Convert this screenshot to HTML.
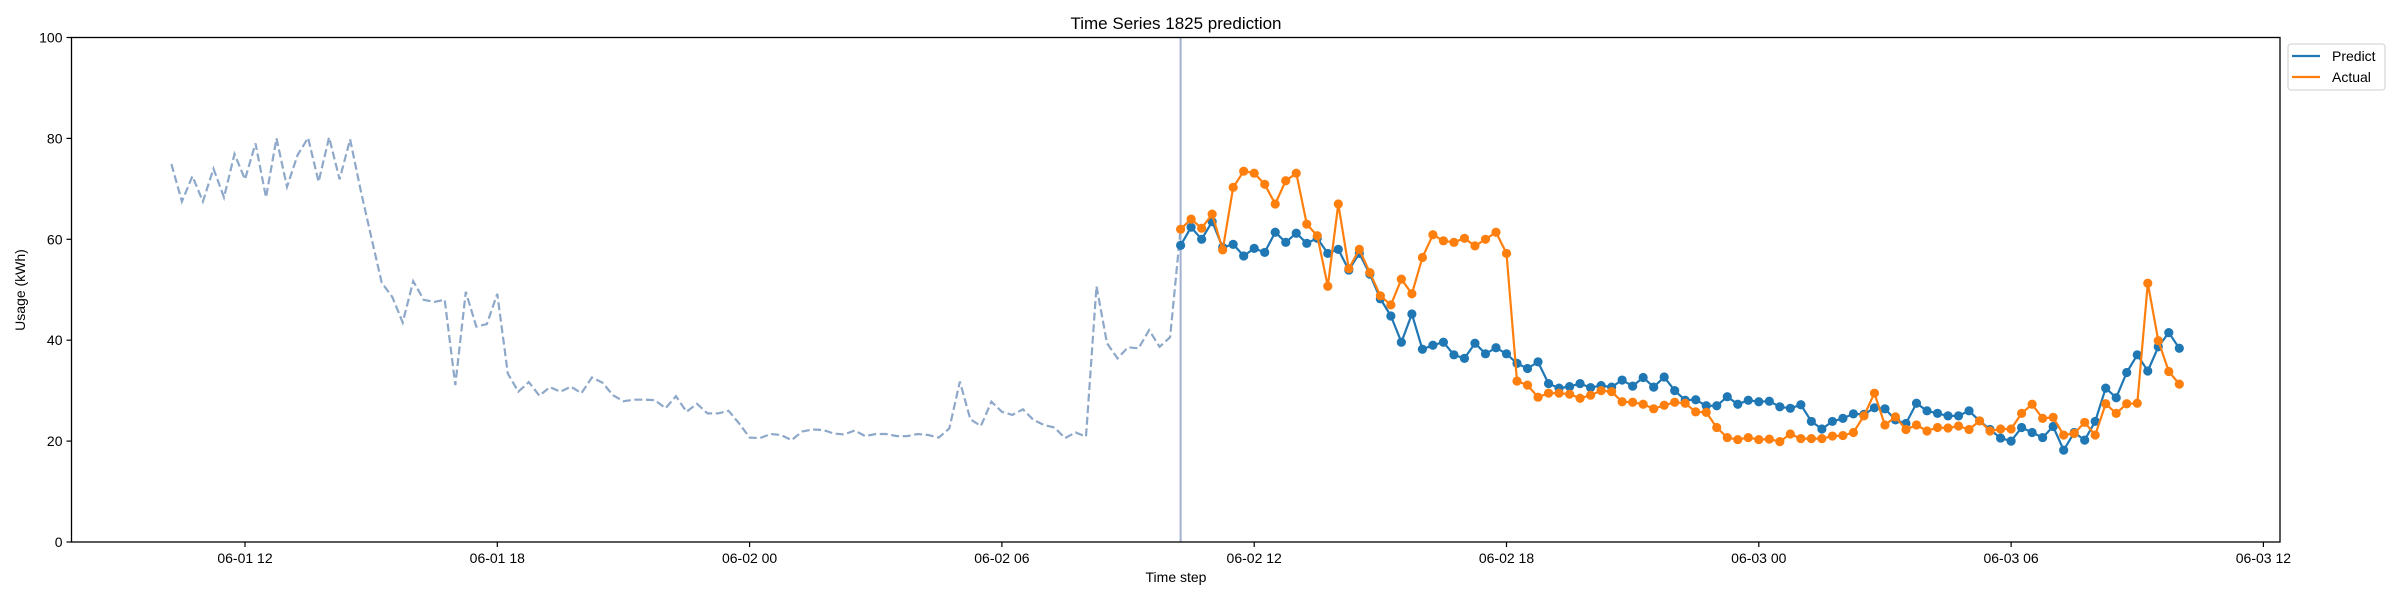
<!DOCTYPE html>
<html><head><meta charset="utf-8"><style>
html,body{margin:0;padding:0;background:#fff;}
svg{display:block;font-family:"Liberation Sans","DejaVu Sans",sans-serif;}
</style></head><body>
<svg id="chart" width="2400" height="600" viewBox="0 0 2400 600" xmlns="http://www.w3.org/2000/svg">
<rect x="0" y="0" width="2400" height="600" fill="#fff"/>
<text x="1176" y="29" font-size="17" text-anchor="middle" fill="#000">Time Series 1825 prediction</text>
<g id="plot"></g>
<g id="axes"></g>
<text x="1176" y="582" font-size="14" text-anchor="middle" fill="#000">Time step</text>
<text transform="translate(25,290) rotate(-90)" font-size="14" text-anchor="middle" fill="#000">Usage (kWh)</text>
<g>
<rect x="2288" y="44" width="97" height="46" rx="3" fill="#fff" stroke="#d6d6d6" stroke-width="1.2"/>
<line x1="2292" y1="56" x2="2320" y2="56" stroke="#1f77b4" stroke-width="2.2"/>
<text x="2332" y="61" font-size="14" fill="#000">Predict</text>
<line x1="2292" y1="77" x2="2320" y2="77" stroke="#ff7f0e" stroke-width="2.2"/>
<text x="2332" y="82" font-size="14" fill="#000">Actual</text>
</g>
</svg>
<script>
// history (15-min steps starting 06-01 10:15)
const historyValues = [74.9,67.5,72.5,67.5,74.0,68.3,76.9,71.9,79.0,68.3,80.0,70.4,76.7,80.1,71.4,80.2,71.9,79.8,69.8,60.5,51.4,48.6,43.5,51.7,48.0,47.6,48.0,31.1,49.6,42.7,43.2,49.2,33.4,29.8,31.7,29.0,30.7,29.8,30.8,29.5,32.6,31.6,29.1,27.9,28.2,28.2,28.1,26.5,28.9,25.8,27.4,25.5,25.5,26.0,23.5,20.7,20.6,21.4,21.2,20.2,21.9,22.3,22.2,21.5,21.3,22.1,21.0,21.4,21.4,21.0,21.0,21.4,21.2,20.7,22.5,31.8,24.3,23.0,27.8,25.8,25.2,26.3,24.2,23.2,22.7,20.6,21.7,20.9,50.7,39.4,36.4,38.6,38.4,42.0,38.7,40.6,62.0];
const predictValues = [58.8,62.4,60.0,63.5,58.4,59.0,56.7,58.2,57.4,61.4,59.4,61.2,59.2,60.2,57.2,58.0,53.9,57.2,53.1,48.2,44.8,39.6,45.2,38.2,39.0,39.6,37.1,36.4,39.4,37.3,38.5,37.3,35.4,34.4,35.7,31.4,30.5,30.8,31.4,30.6,31.0,30.7,32.1,30.9,32.6,30.7,32.7,30.0,28.1,28.2,27.0,27.0,28.8,27.3,28.1,27.8,27.9,26.8,26.5,27.2,23.9,22.4,23.9,24.5,25.4,25.3,26.6,26.4,24.2,23.5,27.5,26.0,25.5,25.0,25.0,26.0,24.0,22.3,20.6,20.0,22.7,21.7,20.7,22.9,18.2,21.7,20.2,23.9,30.5,28.6,33.6,37.1,33.9,38.7,41.5,38.4];
const actualValues = [62.0,64.0,62.2,65.0,57.9,70.3,73.5,73.1,70.9,67.0,71.6,73.1,63.0,60.7,50.7,67.0,54.2,58.0,53.4,48.8,47.0,52.1,49.2,56.4,60.9,59.7,59.4,60.2,58.7,60.0,61.4,57.2,31.9,31.1,28.7,29.5,29.5,29.3,28.5,29.1,30.0,29.8,27.8,27.7,27.3,26.4,27.1,27.7,27.5,25.8,25.7,22.7,20.7,20.3,20.7,20.3,20.4,19.9,21.4,20.5,20.5,20.5,21.0,21.1,21.7,25.0,29.5,23.2,24.8,22.3,23.2,22.0,22.7,22.6,23.0,22.3,24.0,22.0,22.4,22.4,25.5,27.3,24.5,24.7,21.2,21.5,23.7,21.2,27.4,25.5,27.4,27.5,51.3,39.9,33.8,31.3];
const historyStartHour = 10.25;   // hours since 06-01 00:00
const forecastStartHour = 34.25;
const stepHours = 0.25;
const yTicks = [0,20,40,60,80,100];
const xTickHours = [12,18,24,30,36,42,48,54,60];
const xTickLabels = ["06-01 12","06-01 18","06-02 00","06-02 06","06-02 12","06-02 18","06-03 00","06-03 06","06-03 12"];

const L=71.5,R=2280,T=37.5,B=542;
const hMin = 12 - (245-L)/42.05, hMax = 12 + (R-245)/42.05;
function xs(h){return L+(h-hMin)/(hMax-hMin)*(R-L);}
function ys(v){return B-(v/100)*(B-T);}
const NS="http://www.w3.org/2000/svg";
function mk(tag,attrs,parent){const e=document.createElementNS(NS,tag);for(const k in attrs)e.setAttribute(k,attrs[k]);parent.appendChild(e);return e;}
const plot=document.getElementById('plot'), axes=document.getElementById('axes');

// vertical forecast boundary line
const vl=mk('line',{x1:xs(forecastStartHour),x2:xs(forecastStartHour),y1:T,y2:B,stroke:'#a3b0d2','stroke-width':2},plot);



// history dashed
const hp=historyValues.map((v,i)=>xs(historyStartHour+i*stepHours).toFixed(1)+','+ys(v).toFixed(1)).join(' ');
const hl=mk('polyline',{points:hp,fill:'none',stroke:'#8ea8c9','stroke-width':2.2,'stroke-dasharray':'8,3.6'},plot);



function series(vals,color,name){
  const g=mk('g',{},plot);
  
  
  const pts=vals.map((v,i)=>xs(forecastStartHour+i*stepHours).toFixed(1)+','+ys(v).toFixed(1)).join(' ');
  const pl=mk('polyline',{points:pts,fill:'none',stroke:color,'stroke-width':2.2,'stroke-linejoin':'round'},g);
  
  
  vals.forEach((v,i)=>{
    const c=mk('circle',{cx:xs(forecastStartHour+i*stepHours),cy:ys(v),r:4.6,fill:color},g);
    
    
  });
}
series(predictValues,'#1f77b4','predict');
series(actualValues,'#ff7f0e','actual');

// frame
const fr=mk('rect',{x:L,y:T,width:R-L,height:B-T,fill:'none',stroke:'#000','stroke-width':1.3},axes);


yTicks.forEach(v=>{
  const y=ys(v);
  const tk=mk('line',{x1:L-5,x2:L,y1:y,y2:y,stroke:'#000','stroke-width':1.2},axes);
  
  
  const t=mk('text',{x:L-9,y:y+5,'font-size':14,'text-anchor':'end',fill:'#000'},axes);
  t.textContent=String(v);
  
  
});
xTickHours.forEach((h,i)=>{
  const x=xs(h);
  const tk=mk('line',{x1:x,x2:x,y1:B,y2:B+5,stroke:'#000','stroke-width':1.2},axes);
  
  
  const t=mk('text',{x:x,y:B+21,'font-size':14,'text-anchor':'middle',fill:'#000'},axes);
  t.textContent=xTickLabels[i];
  
  
});
</script>
</body></html>
